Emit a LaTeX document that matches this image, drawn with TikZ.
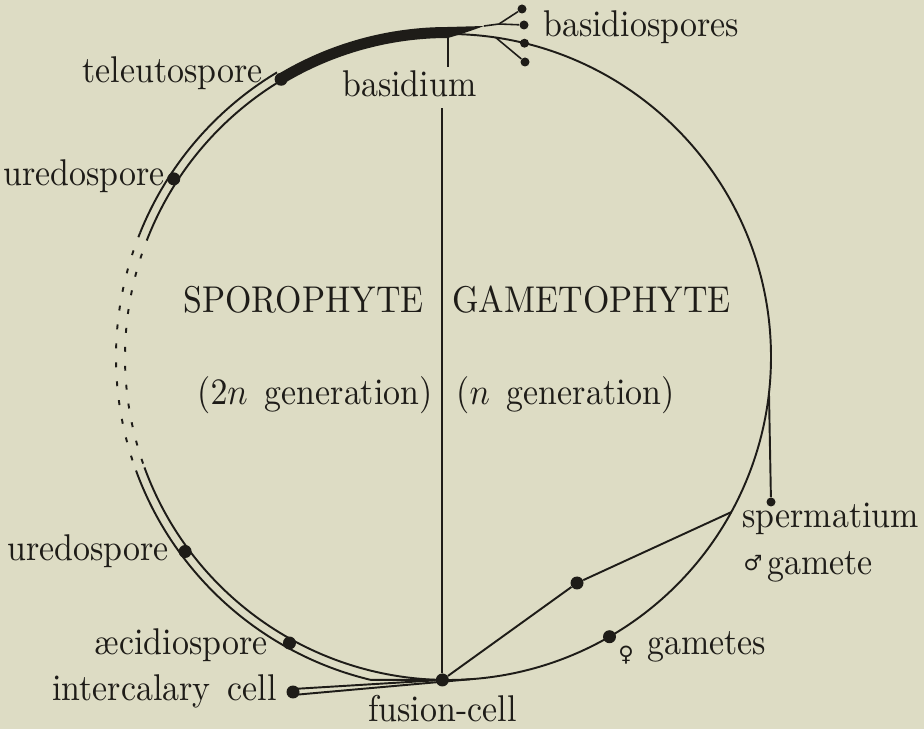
\documentclass[tikz,border=0pt]{standalone}
\usepackage{fontspec}
\usepackage{graphicx}
\usetikzlibrary{calc}
\newfontfamily\symfont{DejaVu Sans}
\definecolor{bg}{RGB}{221,220,196}
\definecolor{ink}{RGB}{30,28,24}
\newcommand\lbl[1]{\scalebox{1.93}[2.12]{\fontsize{10}{12}\selectfont #1}}
\begin{document}
\begin{tikzpicture}[x=0.02cm,y=-0.02cm,
  ln/.style={draw=ink,line width=1.1pt},
  dotsline/.style={draw=ink,line width=1.1pt,dash pattern=on 2.8pt off 8pt},
  dot/.style={circle,fill=ink,inner sep=0pt,minimum size=0.26cm},
  sdot/.style={circle,fill=ink,inner sep=0pt,minimum size=0.18cm},
  lab/.style={text=ink,inner sep=0pt},
  sym/.style={font={\symfont\fontsize{12}{14}\selectfont},text=ink,inner sep=0pt}]
\fill[bg] (0,0) rectangle (924,729);
\useasboundingbox (0,0) rectangle (924,729);
\coordinate (c) at (448,357);
% key points
\node[dot] (tel) at ($(c)+(-121:324)$) {};
\node[dot] (ure1) at ($(c)+(-147:327)$) {};
\node[dot] (ure2) at ($(c)+(143.5:327)$) {};
\node[dot] (aec) at ($(c)+(119:327)$) {};
\node[dot] (fus) at ($(c)+(91:323)$) {};
\node[dot] (fem) at ($(c)+(60:323)$) {};
\node[dot] (gam) at (577,583) {};
\coordinate (gj) at ($(c)+(28.7:323)$);
\coordinate (sj) at ($(c)+(6.4:323)$);
\node[sdot] (sperm) at (771,502) {};
\node[dot] (icell) at (293,692) {};
\coordinate (tip) at (484,26);
\coordinate (f1) at (499,24);
\coordinate (f2) at ($(c)+(-81.5:323)$);
\node[sdot] (b1) at (522,9) {};
\node[sdot] (b2) at (524,25) {};
\node[sdot] (b3) at ($(c)+(-76.3:323)$) {};
\node[sdot] (b4) at (525,62) {};
\coordinate (bas) at ($(c)+(-90:324)$);
% thick teleutospore-basidium arc
\fill[ink] ($(c)+(-121:330)$) arc[start angle=-121,end angle=-90,radius=330]
  .. controls (466,26) .. (tip) .. controls (468,32) and (458,35) .. ($(c)+(-90:319)$)
  arc[start angle=-90,end angle=-121,radius=319] -- cycle;
% right half (gametophyte)
\draw[ln] ($(c)+(-90:323)$) arc[start angle=-90,end angle=91,radius=323];
% inner line of sporophyte
\draw[ln] ($(c)+(-121:323)$) arc[start angle=-121,end angle=-158,radius=323];
\draw[dotsline] ($(c)+(-158:323)$) arc[start angle=-158,end angle=-200,radius=323];
\draw[ln] ($(c)+(-200:323)$) arc[start angle=-200,end angle=-269,radius=323];
% outer line of sporophyte
\draw[ln] ($(c)+(-121:332)$) arc[start angle=-121,end angle=-158,radius=332];
\draw[dotsline] ($(c)+(-158:332)$) arc[start angle=-158,end angle=-200,radius=332];
\draw[ln] ($(c)+(-200:332)$) arc[start angle=-200,end angle=-256.5,radius=332] -- (fus);
% intercalary cell
\draw[ln] ($(icell)+(0,-3)$) -- (fus);
\draw[ln] ($(icell)+(0,3)$) -- ($(c)+(86:323)$);
% gametes and spermatium
\draw[ln] (fus) -- (gam) -- (gj);
\draw[ln] (sj) -- (sperm);
% basidiospores
\draw[ln,line width=0.9pt] (tip) -- (f1) -- (b1);
\draw[ln,line width=0.9pt] (f1) -- (b2);
\draw[ln,line width=0.9pt] (f2) -- (b4);
% labels
\node[lab,anchor=base west] (basidium) at (342,97) {\lbl{basidium}};
\draw[ln] (fus) -- ([yshift=-0.2cm]fus |- basidium.south);
\draw[ln] (bas) -- ([yshift=0.08cm]bas |- basidium.north);
\node[lab,anchor=base west] (lbsp) at (543,37) {\lbl{basidiospores}};
\node[lab,anchor=base east] (ltel) at (263,83) {\lbl{teleutospore}};
\node[lab,anchor=base east] (lure1) at (165,186) {\lbl{uredospore}};
\node[lab,anchor=base east] (lure2) at (169,561) {\lbl{uredospore}};
\node[lab,anchor=base east] (laec) at (268,655) {\lbl{æcidiospore}};
\node[lab,anchor=base east] (licell) at (277,701) {\lbl{intercalary\hspace{0.5em}cell}};
\node[lab,anchor=base west] (lfus) at (368,722) {\lbl{fusion-cell}};
\node[sym] (fsym) at (626,655) {♀};
\node[lab,anchor=base west] (lfem) at (647,655) {\lbl{gametes}};
\node[lab,anchor=base west] (lsperm) at (742,528) {\lbl{spermatium}};
\node[sym] (msym) at (753,563) {♂};
\node[lab,anchor=base west] (lmale) at (767,575) {\lbl{gamete}};
\node[lab,anchor=base west] (lspo) at (183,313) {\lbl{SPOROPHYTE}};
\node[lab,anchor=base west] (lgam) at (452,313) {\lbl{GAMETOPHYTE}};
\node[lab,anchor=base west] (l2n) at (197,405) {\lbl{($2n$\hspace{0.5em}generation)}};
\node[lab,anchor=base west] (ln1) at (456,405) {\lbl{($n$\hspace{0.5em}generation)}};
\end{tikzpicture}
\end{document}
